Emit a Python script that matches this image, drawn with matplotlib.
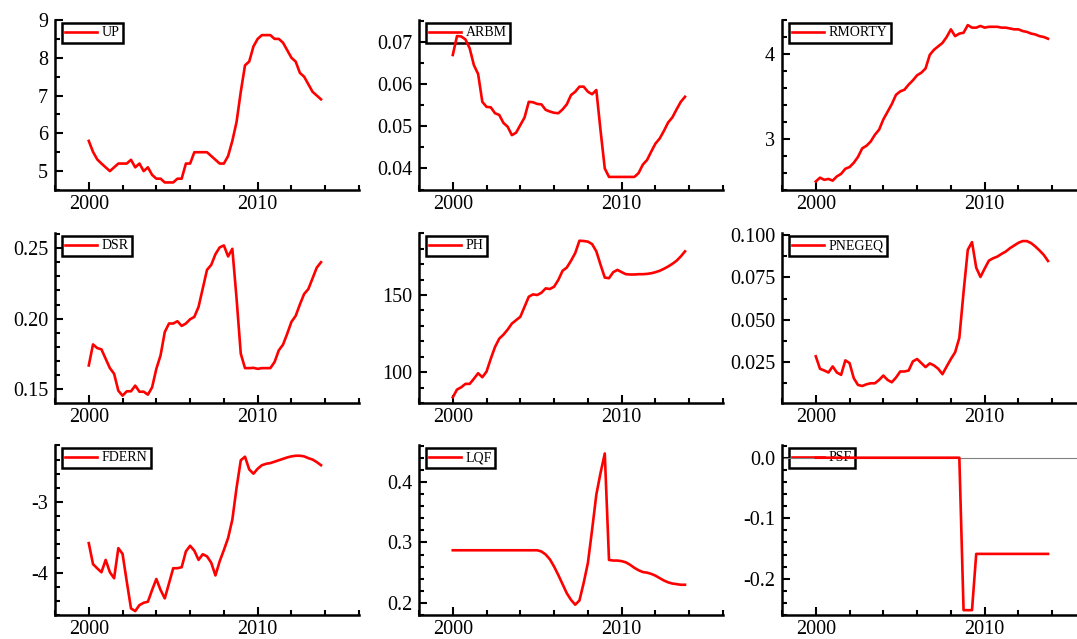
import numpy as np
import matplotlib.pyplot as plt
from matplotlib.ticker import MultipleLocator, FixedLocator, FormatStrFormatter

plt.rcParams['font.family'] = ['Liberation Serif', 'DejaVu Serif']
plt.rcParams['axes.unicode_minus'] = False

# quarterly observations, 2000Q1 .. 2013Q4
quarters = np.arange(2000, 2014, 0.25)

UP = [5.8, 5.51, 5.31, 5.2,   5.1, 5.0, 5.1, 5.2,   5.2, 5.2, 5.3, 5.1,
      5.2, 5.0, 5.1, 4.9,   4.8, 4.8, 4.7, 4.7,   4.7, 4.8, 4.8, 5.2,
      5.2, 5.5, 5.5, 5.5,   5.5, 5.4, 5.3, 5.2,   5.2, 5.4, 5.8, 6.3,
      7.1, 7.8, 7.9, 8.3,   8.5, 8.6, 8.6, 8.6,   8.5, 8.5, 8.4, 8.2,
      8.0, 7.9, 7.6, 7.5,   7.3, 7.1, 7.0, 6.9]

ARBM = [0.0669, 0.0714, 0.0713, 0.0706,   0.0685, 0.0645, 0.0624, 0.0558,
        0.0546, 0.0545, 0.0531, 0.0527,   0.0508, 0.0499, 0.0479, 0.0485,
        0.0503, 0.0521, 0.0558, 0.0557,   0.0553, 0.0552, 0.0539, 0.0535,
        0.0532, 0.0531, 0.0540, 0.0552,   0.0574, 0.0582, 0.0594, 0.0594,
        0.0582, 0.0576, 0.0586, 0.0490,   0.0400, 0.0380, 0.0380, 0.0380,
        0.0380, 0.0380, 0.0380, 0.0380,   0.0389, 0.0409, 0.0420, 0.0440,
        0.0459, 0.0471, 0.0489, 0.0509,   0.0521, 0.0540, 0.0558, 0.0570]

RMORTY = [2.50, 2.545, 2.52, 2.53,   2.51, 2.56, 2.59, 2.65,   2.67, 2.72, 2.79, 2.89,
          2.92, 2.97, 3.05, 3.11,    3.23, 3.32, 3.41, 3.52,   3.56, 3.58, 3.64, 3.69,
          3.75, 3.78, 3.83, 3.99,    4.05, 4.09, 4.13, 4.20,   4.29, 4.21, 4.24, 4.25,
          4.34, 4.31, 4.31, 4.33,    4.31, 4.32, 4.32, 4.32,   4.31, 4.31, 4.30, 4.29,
          4.29, 4.27, 4.26, 4.24,    4.23, 4.21, 4.20, 4.18]

DSR = [0.1669, 0.1818, 0.1792, 0.1783,   0.1716, 0.1650, 0.1610, 0.1490,
       0.1455, 0.1486, 0.1486, 0.1526,   0.1483, 0.1483, 0.1462, 0.1514,
       0.1645, 0.1740, 0.1906, 0.1966,   0.1966, 0.1982, 0.1949, 0.1966,
       0.1996, 0.2013, 0.2084, 0.2215,   0.2346, 0.2381, 0.2457, 0.2505,
       0.2519, 0.2441, 0.2495, 0.2144,   0.1752, 0.1650, 0.1650, 0.1652,
       0.1645, 0.1650, 0.1650, 0.1650,   0.1693, 0.1776, 0.1816, 0.1894,
       0.1978, 0.2020, 0.2101, 0.2175,   0.2210, 0.2286, 0.2362, 0.2400]

PH = [83.7, 88.7, 90.2, 92.4,      92.4, 95.7, 99.3, 96.7,      100.4, 108.7, 116.3, 121.7,
      124.3, 127.6, 131.5, 133.7,  135.9, 142.4, 148.9, 150.4,  150.0, 151.5, 154.3, 153.9,
      155.4, 159.8, 165.7, 167.8,  172.2, 177.2, 185.2, 185.0,  184.6, 183.0, 178.3, 169.6,
      161.3, 160.9, 164.8, 166.3,  164.8, 163.5, 163.3, 163.3,  163.5, 163.5, 163.7, 164.1,
      164.8, 165.7, 167.0, 168.5,  170.2, 172.2, 175.0, 178.3]

PNEGEQ = [0.0282, 0.0208, 0.0198, 0.0186,   0.0222, 0.0186, 0.0172, 0.0258,
          0.0242, 0.0152, 0.0112, 0.0106,   0.0116, 0.0122, 0.0122, 0.0142,
          0.0168, 0.0142, 0.0128, 0.0156,   0.0192, 0.0192, 0.0198, 0.0252,
          0.0266, 0.0242, 0.0218, 0.0240,   0.0228, 0.0208, 0.0176, 0.0222,
          0.0266, 0.0306, 0.0392, 0.0663,   0.0914, 0.0960, 0.0808, 0.0753,
          0.0803, 0.0850, 0.0864, 0.0874,   0.0890, 0.0904, 0.0924, 0.0940,
          0.0956, 0.0966, 0.0966, 0.0954,   0.0934, 0.0910, 0.0884, 0.0848]

FDERN = [-3.583, -3.88, -3.94, -3.995,   -3.82, -3.995, -4.08, -3.654,
         -3.735, -4.128, -4.507, -4.545, -4.46, -4.427, -4.412, -4.246,
         -4.09, -4.246, -4.365, -4.152,  -3.938, -3.938, -3.924, -3.70,
         -3.62, -3.69, -3.82, -3.74,     -3.77, -3.86, -4.04, -3.84,
         -3.68, -3.51, -3.25, -2.80,     -2.41, -2.36, -2.54, -2.60,
         -2.53, -2.48, -2.46, -2.45,     -2.43, -2.41, -2.39, -2.37,
         -2.355, -2.346, -2.346, -2.355, -2.38, -2.40, -2.436, -2.48]

LQF = [0.287, 0.287, 0.287, 0.287,   0.287, 0.287, 0.287, 0.287,
       0.287, 0.287, 0.287, 0.287,   0.287, 0.287, 0.287, 0.287,
       0.287, 0.287, 0.287, 0.287,   0.287, 0.285, 0.280, 0.272,
       0.260, 0.246, 0.231, 0.216,   0.205, 0.197, 0.204, 0.233,
       0.266, 0.321, 0.379, 0.415,   0.447, 0.271, 0.270, 0.270,
       0.269, 0.267, 0.263, 0.258,   0.254, 0.251, 0.250, 0.248,
       0.245, 0.241, 0.237, 0.234,   0.232, 0.231, 0.230, 0.230]

PSF = [0.0, 0.0, 0.0, 0.0,   0.0, 0.0, 0.0, 0.0,   0.0, 0.0, 0.0, 0.0,
       0.0, 0.0, 0.0, 0.0,   0.0, 0.0, 0.0, 0.0,   0.0, 0.0, 0.0, 0.0,
       0.0, 0.0, 0.0, 0.0,   0.0, 0.0, 0.0, 0.0,   0.0, 0.0, 0.0, -0.252,
       -0.252, -0.252, -0.159, -0.159,   -0.159, -0.159, -0.159, -0.159,
       -0.159, -0.159, -0.159, -0.159,   -0.159, -0.159, -0.159, -0.159,
       -0.159, -0.159, -0.159, -0.159]

# name, series, ylim, major ticks, minor step, tick format
panels = [
    ("UP", UP, (4.5, 9.0), [5, 6, 7, 8, 9], 0.5, "%d"),
    ("ARBM", ARBM, (0.0349, 0.0752), [0.04, 0.05, 0.06, 0.07], 0.005, "%.2f"),
    ("RMORTY", RMORTY, (2.4, 4.4), [3, 4], 0.2, "%d"),
    ("DSR", DSR, (0.1403, 0.2607), [0.15, 0.20, 0.25], 0.01, "%.2f"),
    ("PH", PH, (80, 190.2), [100, 150], 10, "%d"),
    ("PNEGEQ", PNEGEQ, (0.0005, 0.1014), [0.025, 0.05, 0.075, 0.1], 0.0125, "%.3f"),
    ("FDERN", FDERN, (-4.6, -2.194), [-4, -3], 0.2, "%d"),
    ("LQF", LQF, (0.18, 0.461), [0.2, 0.3, 0.4], 0.02, "%.1f"),
    ("PSF", PSF, (-0.26, 0.021), [-0.2, -0.1, 0.0], 0.02, "%.1f"),
]

W, H = 1077, 639
col_left = [55, 419, 782]
row_top = [20, 233, 445]
ax_w, ax_h = 304, 170

fig = plt.figure(figsize=(W / 100, H / 100), dpi=100)

for k, (name, vals, ylim, majors, minor, fmt) in enumerate(panels):
    r, c = divmod(k, 3)
    ax = fig.add_axes([col_left[c] / W, 1 - (row_top[r] + ax_h) / H, ax_w / W, ax_h / H])
    if name == "PSF":
        ax.axhline(0, color="#808080", lw=0.8, zorder=2)
    ax.plot(quarters, vals, color="red", lw=1.9, label=name, zorder=3)

    ax.set_xlim(1998, 2016)
    ax.set_ylim(*ylim)
    ax.xaxis.set_major_locator(FixedLocator([2000, 2010]))
    ax.xaxis.set_minor_locator(MultipleLocator(2))
    ax.yaxis.set_major_locator(FixedLocator(majors))
    ax.yaxis.set_minor_locator(MultipleLocator(minor))
    ax.yaxis.set_major_formatter(FormatStrFormatter(fmt))

    for s in ["top", "right"]:
        ax.spines[s].set_visible(False)
    for s in ["left", "bottom"]:
        ax.spines[s].set_linewidth(1.8)
    ax.tick_params(which="both", direction="in", width=1.5, labelsize=14.5)
    ax.tick_params(which="major", length=6)
    ax.tick_params(which="minor", length=3.5)
    ax.tick_params(axis="x", pad=3.5)
    ax.tick_params(axis="y", pad=5)

    leg = ax.legend(loc="upper left", bbox_to_anchor=(7 / ax_w, 1 - 3 / ax_h),
                    borderaxespad=0, fontsize=10, handlelength=2.3,
                    handletextpad=0.3, borderpad=0.25, fancybox=False,
                    edgecolor="black", framealpha=1)
    leg.get_frame().set_linewidth(1.8)
    leg.set_zorder(1)

fig.savefig("out.png", dpi=100)
